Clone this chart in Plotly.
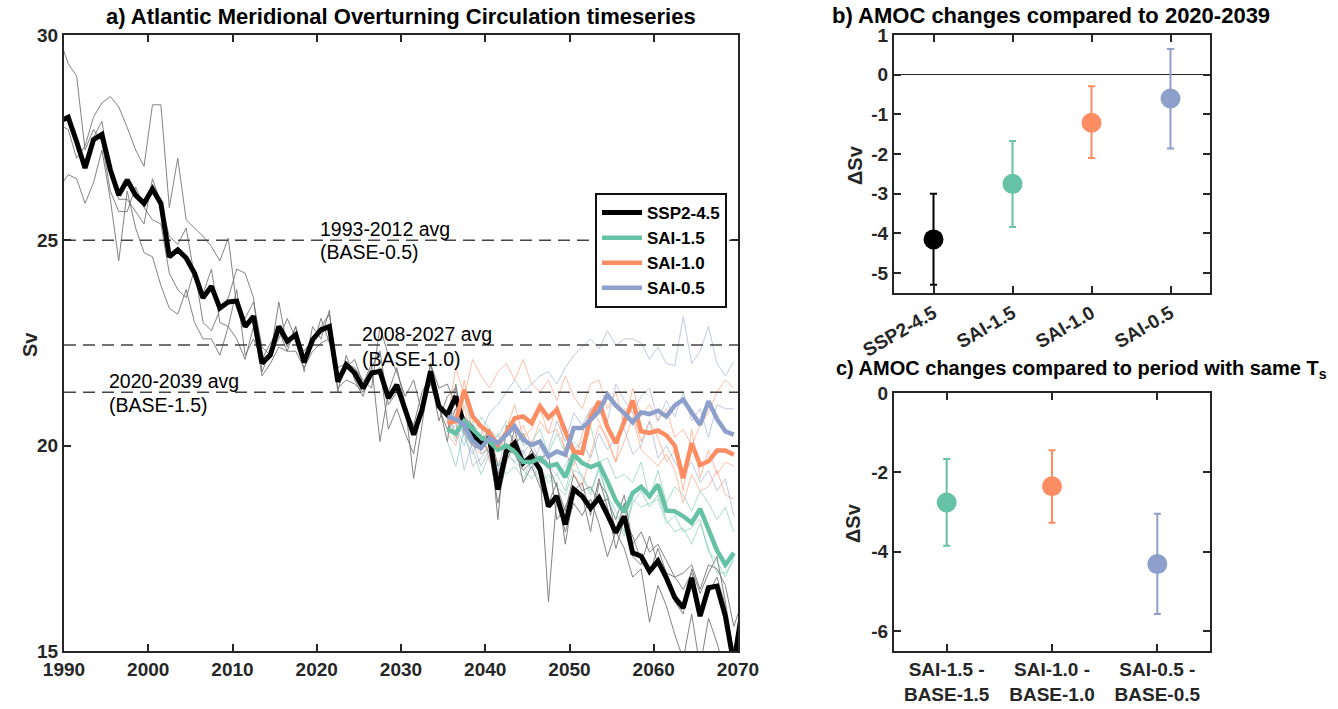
import numpy as np
import plotly.graph_objects as go

W, H = 1338, 709
FONT = "Liberation Sans, Arial, Helvetica, sans-serif"
AX = "#262626"

# ---------------- data ----------------
ssp_years = np.arange(1989.5, 2071.0, 1.0)  # annual means, plotted at mid-year
ssp_mean = [27.9, 28.0, 27.4, 26.76, 27.45, 27.58, 26.72, 26.1, 26.47, 26.1,
            25.9, 26.25, 25.9, 24.6, 24.77, 24.57, 24.2, 23.6, 23.88, 23.35,
            23.5, 23.52, 22.9, 23.15, 22.01, 22.21, 22.9, 22.54, 22.7, 22.03,
            22.58, 22.82, 22.9, 21.56, 21.97, 21.77, 21.4, 21.77, 21.81, 21.16,
            21.48, 20.85, 20.27, 20.88, 21.81, 20.96, 20.75, 21.2, 20.51, 20.27,
            20.02, 20.19, 18.93, 19.86, 20.06, 19.58, 19.74, 19.42, 18.52, 18.77,
            18.08, 18.94, 18.77, 18.48, 18.73, 18.32, 17.88, 18.28, 17.39, 17.31,
            16.94, 17.19, 16.78, 16.3, 16.05, 16.78, 15.85, 16.54, 16.58, 15.85,
            14.7, 16.0]
ssp_m1 = [29.9, 29.3, 29.0, 27.2, 27.7, 27.4, 26.2, 25.7, 25.7, 26.3,
          25.8, 25.5, 25.4, 24.2, 23.8, 23.6, 24.3, 23.0, 22.8, 23.3,
          23.6, 24.3, 24.2, 23.6, 21.8, 22.3, 22.6, 23.1, 22.6, 22.3,
          22.6, 22.9, 23.2, 21.7, 21.9, 22.1, 21.5, 22.0, 20.1, 21.3,
          21.9, 21.0, 19.2, 20.5, 22.0, 21.4, 21.5, 21.0, 20.6, 20.5,
          20.1, 20.4, 18.2, 20.5, 20.0, 20.3, 19.9, 19.4, 16.2, 18.8,
          17.9, 18.6, 18.3, 18.7, 18.1, 17.3, 17.9, 17.5, 16.8, 17.0,
          15.7, 16.6, 16.1, 15.4, 14.8, 15.9, 14.6, 15.8, 15.2, 14.5,
          14.2, 15.0]
ssp_m2 = [27.8, 27.7, 27.0, 27.3, 28.0, 28.35, 28.5, 28.25, 27.75, 27.2,
          26.8, 28.3, 28.3, 25.8, 27.0, 25.5, 25.3, 25.1, 24.85, 24.5,
          25.05, 23.4, 23.1, 23.5, 22.4, 22.2, 23.5, 22.4, 22.9, 21.8,
          22.9, 22.6, 23.3, 21.3, 22.2, 21.6, 21.2, 21.9, 22.3, 21.0,
          21.3, 20.9, 20.5, 21.3, 21.7, 20.6, 21.2, 21.4, 20.3, 20.0,
          19.9, 20.4, 19.5, 19.7, 20.4, 19.5, 19.9, 19.6, 19.5, 19.0,
          18.4, 19.3, 18.9, 19.0, 18.6, 18.7, 18.2, 18.8, 17.6, 17.9,
          17.4, 17.6, 17.2, 16.8, 16.9, 17.1, 16.5, 17.1, 17.0, 16.6,
          15.6, 16.2]
ssp_m3 = [26.3, 26.6, 26.5, 25.9, 26.4, 27.2, 26.0, 24.5, 26.2, 25.3,
          24.7, 24.6, 23.9, 23.35, 23.2, 23.8, 23.0, 22.6, 22.6, 22.2,
          22.9, 22.6, 22.1, 22.9, 21.7, 22.0, 22.4, 22.3, 22.3, 21.9,
          22.3, 22.5, 22.6, 21.4, 21.6, 21.5, 21.3, 21.7, 21.9, 20.4,
          20.9, 20.3, 19.8, 21.0, 21.5, 20.9, 20.4, 20.9, 20.7, 20.5,
          20.2, 19.8, 18.6, 19.6, 20.1, 19.1, 19.5, 19.0, 18.6, 19.1,
          17.6, 18.9, 19.1, 18.3, 19.2, 18.5, 17.5, 18.2, 17.8, 17.2,
          16.9, 17.5, 16.9, 16.2, 15.9, 17.0, 16.4, 16.9, 17.3, 16.2,
          14.9, 15.5]
ssp_m4 = [27.9, 28.0, 27.3, 26.8, 27.5, 27.9, 26.6, 26.0, 26.0, 25.7,
          25.4, 26.5, 25.9, 25.1, 24.9, 25.3, 24.1, 23.7, 24.3, 23.0,
          22.9, 23.8, 22.2, 22.6, 22.1, 22.5, 22.8, 22.3, 22.9, 22.2,
          22.4, 23.1, 22.5, 21.9, 22.0, 21.9, 21.6, 21.4, 22.9, 22.2,
          21.8, 21.2, 21.6, 20.8, 22.0, 21.0, 20.1, 21.5, 20.4, 20.1,
          19.9, 20.3, 19.3, 19.9, 19.8, 19.4, 19.6, 19.7, 19.8, 18.2,
          18.5, 19.0, 18.8, 17.9, 19.1, 18.8, 17.9, 18.6, 17.3, 17.1,
          17.8, 17.1, 16.9, 16.8, 16.5, 16.9, 16.0, 16.4, 16.8, 16.1,
          14.6, 15.8]

sai_years = np.arange(2035.5, 2070.0, 1.0)
sai15_mean = [20.4, 20.3, 20.6, 20.4, 20.2, 20.1, 19.9, 20.0, 19.85, 19.6,
              19.6, 19.7, 19.5, 19.55, 19.23, 19.78, 19.58, 19.48, 19.56, 19.13,
              18.66, 18.38, 18.85, 19.0, 18.77, 19.05, 18.42, 18.4, 18.28, 18.12,
              18.46, 17.96, 17.45, 17.1, 17.39]
sai15_m1 = [20.7, 20.1, 21.2, 20.3, 20.7, 20.4, 20.2, 20.6, 20.5, 20.0,
            20.1, 20.4, 19.8, 20.3, 19.8, 20.1, 19.9, 20.5, 19.6, 19.7,
            19.2, 19.3, 19.1, 19.6, 18.7, 19.4, 18.6, 19.0, 18.8, 18.4,
            18.9, 18.6, 18.2, 18.5, 17.9]
sai15_m2 = [20.3, 20.5, 20.0, 20.6, 19.8, 19.9, 19.5, 19.8, 19.6, 19.4,
            19.2, 19.5, 19.1, 19.3, 18.9, 19.7, 19.2, 18.9, 19.4, 18.8,
            18.4, 17.9, 18.7, 18.5, 18.6, 18.7, 18.1, 18.3, 17.9, 18.0,
            18.2, 17.4, 17.2, 16.8, 17.3]
sai15_m3 = [20.1, 19.5, 20.4, 19.9, 19.3, 19.8, 19.6, 19.3, 19.5, 19.2,
            19.6, 19.1, 19.3, 19.0, 18.8, 19.4, 19.3, 18.8, 19.5, 18.7,
            18.2, 17.8, 18.6, 18.9, 18.5, 18.8, 18.2, 17.9, 18.0, 17.6,
            18.1, 17.5, 16.9, 16.9, 17.2]
sai10_mean = [20.55, 20.6, 21.36, 20.71, 20.47, 20.31, 20.02, 20.3, 20.67, 20.71,
              20.55, 20.96, 20.68, 20.88, 20.35, 19.86, 19.82, 20.7, 21.08, 20.45,
              20.06, 20.55, 21.1, 20.35, 20.31, 20.37, 20.25, 20.0, 19.21, 20.06,
              19.53, 19.62, 19.88, 19.88, 19.78]
sai10_m1 = [20.6, 21.9, 21.2, 22.1, 21.7, 21.4, 21.8, 22.0, 21.6, 22.1,
            21.5, 21.3, 21.6, 21.1, 21.7, 21.2, 20.9, 21.5, 21.6, 20.9,
            21.3, 20.5, 21.4, 20.7, 21.0, 20.6, 20.9, 20.2, 20.4, 20.0,
            20.5, 20.8, 21.3, 21.6, 21.4]
sai10_m2 = [20.8, 20.2, 21.6, 20.3, 20.5, 19.6, 20.1, 20.4, 21.0, 20.2,
            20.4, 20.9, 20.3, 21.0, 19.8, 19.5, 20.3, 20.9, 20.6, 20.1,
            19.6, 20.9, 20.8, 20.1, 20.6, 20.2, 19.6, 19.9, 18.9, 20.4,
            19.2, 19.9, 19.3, 19.6, 19.5]
sai10_m3 = [20.3, 20.0, 21.0, 20.0, 19.8, 20.0, 19.6, 19.8, 20.2, 20.5,
            20.0, 20.6, 20.3, 20.4, 19.9, 19.3, 19.0, 19.8, 20.5, 20.2,
            19.6, 20.1, 20.7, 19.9, 19.7, 19.5, 19.8, 19.4, 18.6, 19.3,
            18.9, 19.0, 19.4, 18.8, 18.7]
sai05_mean = [20.7, 20.65, 20.5, 20.12, 19.94, 20.19, 20.06, 20.27, 20.47, 20.14,
              20.02, 20.1, 19.74, 19.86, 19.78, 20.43, 20.43, 20.63, 20.84, 21.24,
              20.98, 20.79, 20.57, 20.81, 20.77, 20.85, 20.71, 20.98, 21.12, 20.81,
              20.51, 21.08, 20.65, 20.35, 20.27]
sai05_m1 = [20.6, 20.9, 20.2, 19.8, 20.3, 20.8, 21.0, 21.3, 21.6, 21.3,
            21.5, 21.7, 21.8, 21.5, 21.9, 22.2, 22.4, 22.6, 22.35, 22.8,
            22.45, 22.6, 22.6, 22.5, 22.1, 22.4, 22.0, 21.95, 23.15, 22.0,
            22.3, 22.9, 22.0, 21.7, 22.05]
sai05_m2 = [20.9, 20.3, 20.4, 19.5, 19.7, 20.0, 19.4, 20.3, 20.2, 19.8,
            20.1, 19.6, 19.9, 20.6, 20.1, 20.8, 20.5, 20.9, 21.0, 20.6,
            21.5, 21.1, 20.8, 21.2, 21.4, 20.6, 21.1, 20.7, 21.3, 20.6,
            20.9, 20.2, 21.0, 20.9, 20.9]
sai05_m3 = [20.4, 20.6, 19.4, 20.1, 19.5, 19.9, 20.3, 19.8, 19.6, 19.9,
            19.4, 20.0, 19.5, 19.3, 19.5, 19.9, 20.1, 19.7, 20.3, 19.9,
            20.2, 20.4, 19.8, 20.0, 20.6, 19.7, 20.0, 19.6, 19.3, 19.6,
            19.1, 19.4, 18.9, 19.2, 18.3]

# reference-period averages (Sv)
ref_levels = [25.0, 22.45, 21.3]
ref_label1 = ["1993-2012 avg", "2008-2027 avg", "2020-2039 avg"]
ref_label2 = ["(BASE-0.5)", "(BASE-1.0)", "(BASE-1.5)"]

# panel b
b_cats = ["SSP2-4.5", "SAI-1.5", "SAI-1.0", "SAI-0.5"]
b_val = [-4.15, -2.75, -1.21, -0.60]
b_hi = [-3.00, -1.67, -0.29, 0.65]
b_lo = [-5.29, -3.84, -2.10, -1.86]

# panel c
c_cats = ["SAI-1.5 -<br>BASE-1.5", "SAI-1.0 -<br>BASE-1.0", "SAI-0.5 -<br>BASE-0.5"]
c_val = [-2.76, -2.35, -4.31]
c_hi = [-1.66, -1.44, -3.04]
c_lo = [-3.85, -3.27, -5.57]

C_SSP = "#000000"
C15 = "#66c2a5"
C10 = "#fc8d62"
C05 = "#8da0cb"

# ---------------- geometry (px) ----------------
def px(x):
    return x / W

def py(y):
    return 1 - y / H

A_L, A_R, A_T, A_B = 64, 738, 35, 651
B_L, B_R, B_T, B_B = 894, 1210, 35, 293
C_L, C_R, C_T, C_B = 894, 1210, 393, 651

fig = go.Figure()

def thin(xv, yv, color, opacity):
    fig.add_trace(go.Scatter(x=xv, y=yv, mode="lines", opacity=opacity,
                             line=dict(color=color, width=1), showlegend=False,
                             hoverinfo="skip", xaxis="x", yaxis="y"))

# ensemble members
for m in (ssp_m1, ssp_m2, ssp_m3, ssp_m4):
    thin(ssp_years, m, "#6e6e6e", 0.85)
for m in (sai15_m1, sai15_m2, sai15_m3):
    thin(sai_years, m, C15, 0.55)
for m in (sai10_m1, sai10_m2, sai10_m3):
    thin(sai_years, m, C10, 0.55)
for m in (sai05_m1, sai05_m2, sai05_m3):
    thin(sai_years, m, C05, 0.55)

# reference lines
for lev in ref_levels:
    fig.add_trace(go.Scatter(x=[1990, 2070], y=[lev, lev], mode="lines",
                             line=dict(color="#444444", width=1.5, dash="12px,7px"),
                             showlegend=False, hoverinfo="skip", xaxis="x", yaxis="y"))

# mean lines
fig.add_trace(go.Scatter(x=ssp_years, y=ssp_mean, mode="lines", name="SSP2-4.5",
                         line=dict(color=C_SSP, width=5), xaxis="x", yaxis="y"))
fig.add_trace(go.Scatter(x=sai_years, y=sai15_mean, mode="lines", name="SAI-1.5",
                         line=dict(color=C15, width=4.5), xaxis="x", yaxis="y"))
fig.add_trace(go.Scatter(x=sai_years, y=sai10_mean, mode="lines", name="SAI-1.0",
                         line=dict(color=C10, width=4.5), xaxis="x", yaxis="y"))
fig.add_trace(go.Scatter(x=sai_years, y=sai05_mean, mode="lines", name="SAI-0.5",
                         line=dict(color=C05, width=4.5), xaxis="x", yaxis="y"))

# panel b
b_cols = [C_SSP, C15, C10, C05]
for i in range(4):
    fig.add_trace(go.Scatter(
        x=[i + 1], y=[b_val[i]], mode="markers",
        marker=dict(color=b_cols[i], size=20),
        error_y=dict(type="data", symmetric=False,
                     array=[b_hi[i] - b_val[i]], arrayminus=[b_val[i] - b_lo[i]],
                     color=b_cols[i], thickness=2, width=3.5),
        showlegend=False, xaxis="x2", yaxis="y2"))

# panel c
c_cols = [C15, C10, C05]
for i in range(3):
    fig.add_trace(go.Scatter(
        x=[i + 1], y=[c_val[i]], mode="markers",
        marker=dict(color=c_cols[i], size=20),
        error_y=dict(type="data", symmetric=False,
                     array=[c_hi[i] - c_val[i]], arrayminus=[c_val[i] - c_lo[i]],
                     color=c_cols[i], thickness=2, width=3.5),
        showlegend=False, xaxis="x3", yaxis="y3"))

axis_common = dict(showline=True, linecolor=AX, linewidth=2, mirror="allticks",
                   ticks="inside", ticklen=7, tickwidth=2, tickcolor=AX,
                   showgrid=False, zeroline=False, automargin=False,
                   tickfont=dict(family=FONT, size=19, color=AX, weight="bold"))

def minus(v):
    return ("%g" % v).replace("\u2212", "-")

fig.update_layout(
    width=W, height=H, margin=dict(l=0, r=0, t=0, b=0, autoexpand=False),
    paper_bgcolor="white", plot_bgcolor="white",
    font=dict(family=FONT, color="black"),
    xaxis=dict(domain=[px(A_L), px(A_R)], range=[1990, 2070],
               tickvals=list(range(1990, 2071, 10)), anchor="y", **axis_common),
    yaxis=dict(domain=[py(A_B), py(A_T)], range=[15, 30],
               tickvals=[15, 20, 25, 30], anchor="x", **axis_common),
    xaxis2=dict(domain=[px(B_L), px(B_R)], range=[0.5, 4.5],
                tickvals=[1, 2, 3, 4], ticktext=b_cats, tickangle=-30, anchor="y2",
                **axis_common),
    yaxis2=dict(domain=[py(B_B), py(B_T)], range=[-5.5, 1],
                tickvals=[-5, -4, -3, -2, -1, 0, 1],
                ticktext=[minus(v) for v in [-5, -4, -3, -2, -1, 0, 1]], anchor="x2",
                **{**axis_common, "zeroline": True}, zerolinecolor=AX, zerolinewidth=1),
    xaxis3=dict(domain=[px(C_L), px(C_R)], range=[0.5, 3.5],
                tickvals=[1, 2, 3], ticktext=c_cats, anchor="y3", **axis_common),
    yaxis3=dict(domain=[py(C_B), py(C_T)], range=[-6.5, 0],
                tickvals=[-6, -4, -2, 0], ticktext=[minus(v) for v in [-6, -4, -2, 0]],
                anchor="x3", **axis_common),
    legend=dict(x=px(595), y=py(193), xanchor="left", yanchor="top",
                bgcolor="white", bordercolor="#111111", borderwidth=2,
                font=dict(family=FONT, size=17, color="black", weight="bold"),
                tracegroupgap=0, itemwidth=40),
)

ann = []
# titles
ann.append(dict(text="<b>a) Atlantic Meridional Overturning Circulation timeseries</b>",
                x=px((A_L + A_R) / 2), y=py(17), xref="paper", yref="paper",
                xanchor="center", yanchor="middle", showarrow=False,
                font=dict(family=FONT, size=22, color="black")))
ann.append(dict(text="<b>b) AMOC changes compared to 2020-2039</b>",
                x=px(1051), y=py(16), xref="paper", yref="paper",
                xanchor="center", yanchor="middle", showarrow=False,
                font=dict(family=FONT, size=22, color="black")))
ann.append(dict(text="<b>c) AMOC changes compared to period with same T<sub>s</sub></b>",
                x=px(834), y=py(369), xref="paper", yref="paper",
                xanchor="left", yanchor="middle", showarrow=False,
                font=dict(family=FONT, size=20, color="black")))
# y-axis labels
ann.append(dict(text="<b>Sv</b>", x=px(30), y=py(345), xref="paper", yref="paper",
                textangle=-90, showarrow=False, xanchor="center", yanchor="middle",
                font=dict(family=FONT, size=20, color=AX)))
ann.append(dict(text="<b>\u0394Sv</b>", x=px(855), y=py(165), xref="paper", yref="paper",
                textangle=-90, showarrow=False, xanchor="center", yanchor="middle",
                font=dict(family=FONT, size=20, color=AX)))
ann.append(dict(text="<b>\u0394Sv</b>", x=px(853), y=py(523), xref="paper", yref="paper",
                textangle=-90, showarrow=False, xanchor="center", yanchor="middle",
                font=dict(family=FONT, size=20, color=AX)))
# reference labels
lab_pos = [(318, 229, 252), (360, 334, 359), (107, 381, 405)]
for i, (lx, y1, y2) in enumerate(lab_pos):
    ann.append(dict(text=ref_label1[i], x=px(lx), y=py(y1), xref="paper", yref="paper",
                    xanchor="left", yanchor="middle", showarrow=False,
                    font=dict(family=FONT, size=19.5, color="black")))
    ann.append(dict(text=ref_label2[i], x=px(lx), y=py(y2), xref="paper", yref="paper",
                    xanchor="left", yanchor="middle", showarrow=False,
                    font=dict(family=FONT, size=19.5, color="black")))
fig.update_layout(annotations=ann)

fig.write_html("out.html")
